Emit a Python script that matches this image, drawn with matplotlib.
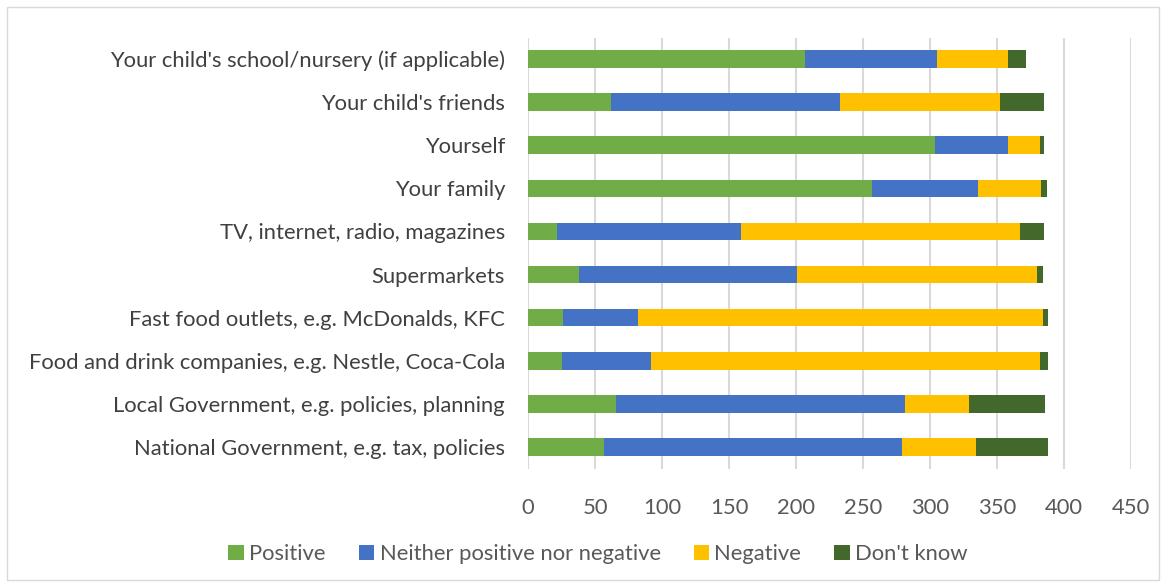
import matplotlib.pyplot as plt
import numpy as np
from matplotlib.patches import Rectangle

plt.rcParams["font.family"] = ["Lato", "DejaVu Sans"]

# categories top to bottom
categories = [
    "Your child's school/nursery (if applicable)",
    "Your child's friends",
    "Yourself",
    "Your family",
    "TV, internet, radio, magazines",
    "Supermarkets",
    "Fast food outlets, e.g. McDonalds, KFC",
    "Food and drink companies, e.g. Nestle, Coca-Cola",
    "Local Government, e.g. policies, planning",
    "National Government, e.g. tax, policies",
]
positive = [207, 62, 304, 257, 22, 38, 26, 25, 66, 57]
neither = [98, 171, 54, 79, 137, 163, 56, 67, 215, 222]
negative = [53, 119, 24, 47, 208, 179, 302, 290, 48, 55]
dont_know = [14, 33, 3, 4, 18, 4, 4, 6, 57, 54]

series = [
    ("Positive", positive, "#70AD47"),
    ("Neither positive nor negative", neither, "#4472C4"),
    ("Negative", negative, "#FFC000"),
    ("Don't know", dont_know, "#43682B"),
]

W, H = 1166, 587
fig = plt.figure(figsize=(W / 100, H / 100), dpi=100)
ax = fig.add_axes([528 / W, 1 - 468.5 / H, (1131 - 528) / W, (468.5 - 37.5) / H])

y = np.arange(len(categories))
left = np.zeros(len(categories))
for name, vals, color in series:
    ax.barh(y, vals, left=left, height=0.41, color=color, label=name, zorder=3)
    left += np.array(vals)

ax.set_ylim(len(categories) - 0.5, -0.5)
ax.set_yticks(y)
ax.set_yticklabels(categories, fontsize=15.8, color="#404040")
ax.set_xlim(0, 450)
ax.set_xticks(np.arange(0, 451, 50))
ax.tick_params(axis="x", labelsize=15.8, labelcolor="#595959", length=0, pad=21)
ax.tick_params(axis="y", length=0, pad=16.5)
ax.grid(axis="x", color="#D9D9D9", linewidth=1.5, zorder=0)
for s in ax.spines.values():
    s.set_visible(False)

fig.legend(loc="center", bbox_to_anchor=(598 / W, 1 - 554 / H), ncol=4, frameon=False,
           fontsize=15.8, labelcolor="#595959", handlelength=0.7, handleheight=0.7,
           handletextpad=0.25, columnspacing=1.5)

fig.patches.append(Rectangle((7 / W, 7 / H), 1152 / W, 573 / H, transform=fig.transFigure,
                             fill=False, edgecolor="#D9D9D9", linewidth=1))

fig.savefig("out.png", dpi=100)
